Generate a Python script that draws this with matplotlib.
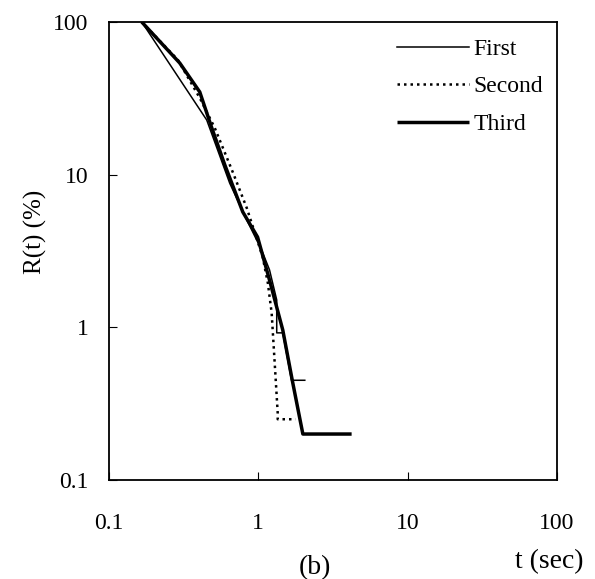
import matplotlib
matplotlib.use('Agg')
import matplotlib.pyplot as plt

# (t in sec, R in %)
first_t = [0.166, 0.452, 0.644, 0.838, 1.055, 1.19, 1.33, 1.33, 1.46, 1.67, 2.05]
first_r = [100, 22.8, 8.8, 5.05, 3.2, 2.38, 1.51, 0.92, 0.92, 0.45, 0.45]

second_t = [0.166, 0.29, 0.406, 0.512, 0.675, 0.838, 1.07, 1.16, 1.23, 1.31, 1.35, 1.35, 1.78]
second_r = [100, 56.4, 31.8, 20.2, 10.4, 6.05, 2.9, 1.95, 1.24, 0.45, 0.275, 0.25, 0.25]

third_t = [0.166, 0.298, 0.406, 0.489, 0.597, 0.788, 0.99, 1.19, 1.46, 1.69, 1.99, 4.22]
third_r = [100, 53.9, 34.8, 20.2, 11.6, 5.7, 3.9, 2.04, 0.96, 0.45, 0.20, 0.20]

x_ticks = [0.1, 1, 10, 100]
x_labels = ['0.1', '1', '10', '100']
y_ticks = [0.1, 1, 10, 100]
y_labels = ['0.1', '1', '10', '100']

plt.rcParams['font.family'] = ['Liberation Serif', 'DejaVu Serif']

fig = plt.figure(figsize=(5.95, 5.79), dpi=100)
ax = fig.add_axes([0.183, 0.171, 0.753, 0.791])

ax.plot(first_t, first_r, color='black', linewidth=1.1, label='First')
ax.plot(second_t, second_r, color='black', linewidth=1.8, linestyle=(0, (1, 1.6)), label='Second')
ax.plot(third_t, third_r, color='black', linewidth=2.5, label='Third', solid_capstyle='butt')

ax.set_xscale('log')
ax.set_yscale('log')
ax.set_xlim(0.1, 100)
ax.set_ylim(0.1, 100)
ax.set_xticks(x_ticks)
ax.set_xticklabels(x_labels)
ax.set_yticks(y_ticks)
ax.set_yticklabels(y_labels)
ax.minorticks_off()
ax.tick_params(direction='in', length=6, width=0.8, labelsize=17)
ax.tick_params(axis='x', pad=23.5)
ax.tick_params(axis='y', pad=14.5)
for s in ax.spines.values():
	s.set_linewidth(1.3)

ax.text(-0.163, 0.541, 'R(t) (%)', transform=ax.transAxes, rotation=90,
		ha='center', va='center', fontsize=18)
ax.text(0.982, -0.179, 't (sec)', transform=ax.transAxes, ha='center', va='center', fontsize=20)
ax.text(0.46, -0.192, '(b)', transform=ax.transAxes, ha='center', va='center', fontsize=20)

ax.legend(loc='upper right', bbox_to_anchor=(0.99, 0.985), frameon=False, fontsize=17,
		  handlelength=3.05, handletextpad=0.2, labelspacing=0.68, borderaxespad=0.0)

plt.savefig('out.png', dpi=100)
